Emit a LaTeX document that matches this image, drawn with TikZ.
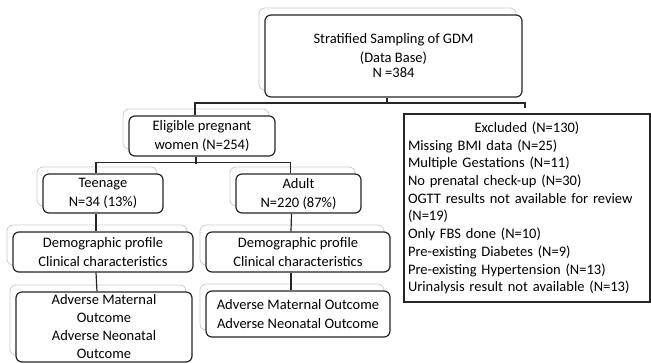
\documentclass[tikz,border=0pt]{standalone}
\usepackage{fontspec}
\setmainfont{Carlito}
\usetikzlibrary{shadows}

\begin{document}
\begin{tikzpicture}[x=1pt,y=-1pt,font=\fontsize{14.5}{19}\selectfont]
\useasboundingbox[fill=white] (0,0) rectangle (651,364);
\tikzstyle{box}=[draw=black!85,line width=1.2pt,rounded corners=6pt,fill=white,align=center,inner sep=0pt,
  copy shadow={shadow xshift=-6pt,shadow yshift=7pt,draw=black!20,fill=white,line width=0.8pt}];
\tikzstyle{line}=[draw=black!85,line width=1.2pt];
\node[box,minimum width=257pt,minimum height=82pt] (top) at (393.5,56) {Stratified Sampling of GDM\\(Data Base)\\[-4pt]N =384};
\node[box,minimum width=146pt,minimum height=40pt] (elig) at (202,136) {Eligible pregnant\\women (N=254)};
\node[box,minimum width=120pt,minimum height=39pt] (teen) at (103,193.5) {Teenage\\N=34 (13\%)};
\node[box,minimum width=125pt,minimum height=39pt] (adult) at (298.5,193.5) {Adult\\N=220 (87\%)};
\node[box,minimum width=180pt,minimum height=40pt] (demoT) at (103,252) {Demographic profile\\Clinical characteristics};
\node[box,minimum width=184pt,minimum height=40pt] (demoA) at (298,252) {Demographic profile\\Clinical characteristics};
\node[box,minimum width=176pt,minimum height=70pt,font=\fontsize{14.5}{18}\selectfont] (advT) at (104,327) {Adverse Maternal\\Outcome\\Adverse Neonatal\\Outcome};
\node[box,minimum width=184pt,minimum height=46pt] (advA) at (298,314) {Adverse Maternal Outcome\\Adverse Neonatal Outcome};
\node[draw=black!85,line width=1.2pt,minimum width=246pt,minimum height=188pt,text width=238pt,align=left,inner sep=0pt,
  font=\fontsize{14.5}{17.7}\selectfont] (excl) at (527,208)
  {\makebox[\linewidth]{Excluded (N=130)}\\
   Missing BMI data (N=25)\\
   Multiple Gestations (N=11)\\
   No prenatal check-up (N=30)\\
   OGTT results not available for review\\
   (N=19)\\
   Only FBS done (N=10)\\
   Pre-existing Diabetes (N=9)\\
   Pre-existing Hypertension (N=13)\\
   Urinalysis result not available (N=13)};
\coordinate (exclIn) at (525,108);
\draw[line] ([xshift=-6.5pt]top.south) -- ++(0,6.5);
\draw[line] ([xshift=-7pt]elig.north) -- ++(0,-12.5) -| (exclIn);
\draw[line] ([xshift=-6pt]elig.south) -- ++(0,7);
\draw[line] ([xshift=-7pt]teen.north) -- ++(0,-11) -| ([xshift=-8pt]adult.north);
\draw[line] ([xshift=-7pt]teen.south) -- ([xshift=-7pt]demoT.north);
\draw[line] ([xshift=-7pt]adult.south) -- ([xshift=-7pt]demoA.north);
\draw[line] ([xshift=-7pt]demoT.south) -- ([xshift=-7pt]advT.north);
\draw[line] ([xshift=-7pt]demoA.south) -- ([xshift=-7pt]advA.north);
\end{tikzpicture}
\end{document}
